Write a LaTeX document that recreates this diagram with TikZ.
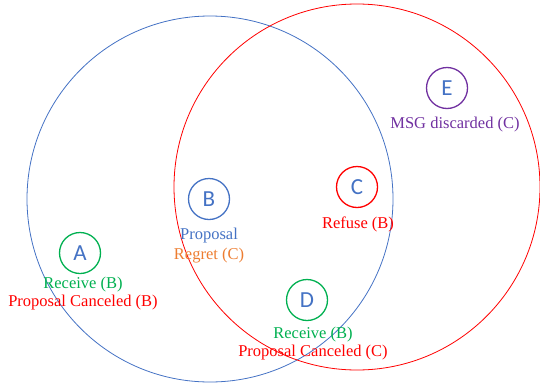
\documentclass[tikz,border=0pt]{standalone}
\usepackage{fontspec}
\setmainfont{Liberation Serif}
\newfontfamily\letterfont{Carlito}
\usetikzlibrary{positioning}
\definecolor{cblue}{HTML}{4472C4}
\definecolor{cred}{HTML}{FF0000}
\definecolor{cgreen}{HTML}{00B050}
\definecolor{corange}{HTML}{ED7D31}
\definecolor{cpurple}{HTML}{7030A0}

\begin{document}
\begin{tikzpicture}[x=1pt, y=-1pt,
  state/.style={circle, draw=#1, line width=1.3pt, minimum size=41pt, inner sep=0pt,
                font=\letterfont\fontsize{23}{23}\selectfont, text=cblue},
  lbl/.style={font=\fontsize{16.5}{18}\selectfont, inner sep=0pt, align=center}
]
\useasboundingbox (0,0) rectangle (540,383);
% the two large sets
\draw[cblue, line width=0.8pt] (210,199) circle (183);
\draw[cred, line width=0.8pt] (357,187) circle (183);
% states
\node[state=cgreen] (a) at (80,253) {A};
\node[state=cblue] (b) at (209,199) {B};
\node[state=cred] (c) at (357,187) {C};
\node[state=cgreen] (d) at (307,300) {D};
\node[state=cpurple] (e) at (447,88) {E};
% labels
\node[lbl, text=cgreen] (arecv) at (83,285) {Receive (B)};
\node[lbl, text=cred] (acanc) at (83,303) {Proposal Canceled (B)};
\node[lbl, text=cblue] (bprop) at (209,236) {Proposal};
\node[lbl, text=corange] (bregr) at (209,256) {Regret (C)};
\node[lbl, text=cred] (crefu) at (358,224) {Refuse (B)};
\node[lbl, text=cgreen] (drecv) at (313,335) {Receive (B)};
\node[lbl, text=cred] (dcanc) at (313,353) {Proposal Canceled (C)};
\node[lbl, text=cpurple] (edisc) at (455,125) {MSG discarded (C)};
\end{tikzpicture}
\end{document}
